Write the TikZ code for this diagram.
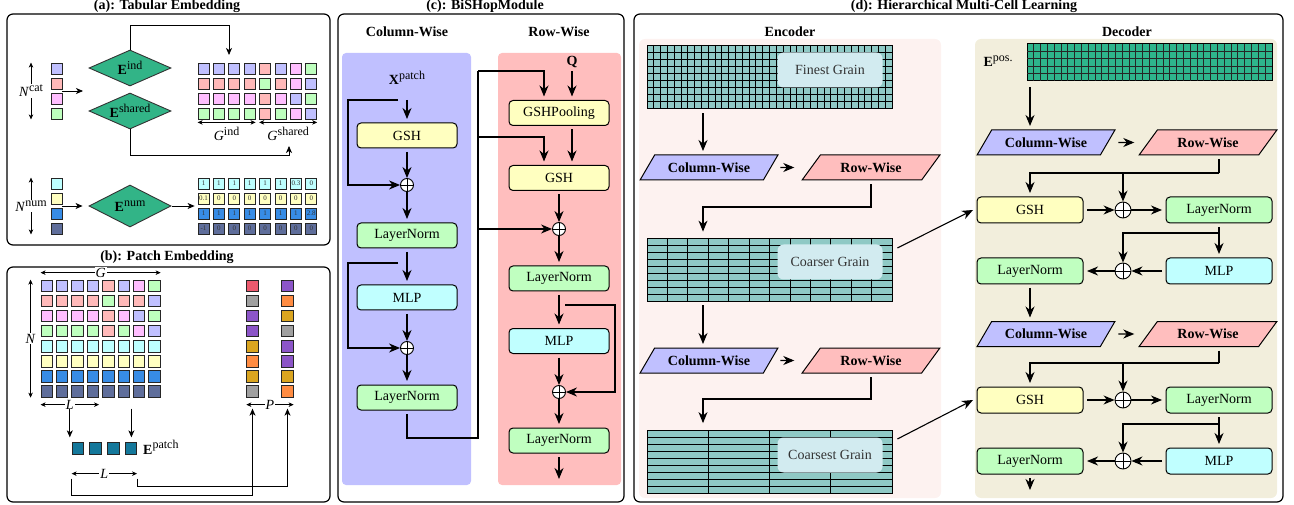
\documentclass[tikz,border=0pt]{standalone}
\usepackage{fontspec}
\setmainfont{Liberation Serif}
\usetikzlibrary{arrows.meta,shapes.geometric,calc}

\definecolor{cB}{RGB}{192,192,255}
\definecolor{cR}{RGB}{255,185,185}
\definecolor{cM}{RGB}{255,190,255}
\definecolor{cG}{RGB}{190,255,190}
\definecolor{cC}{RGB}{190,255,255}
\definecolor{cY}{RGB}{255,255,192}
\definecolor{cD}{RGB}{55,140,230}
\definecolor{cS}{RGB}{95,110,155}
\definecolor{pR}{RGB}{236,90,110}
\definecolor{pA}{RGB}{160,160,160}
\definecolor{pP}{RGB}{140,85,200}
\definecolor{pO}{RGB}{218,165,32}
\definecolor{pN}{RGB}{255,140,66}
\definecolor{diag}{RGB}{50,180,135}
\definecolor{patchc}{RGB}{20,120,155}
\definecolor{colbg}{RGB}{192,192,255}
\definecolor{rowbg}{RGB}{255,190,190}
\definecolor{gshc}{RGB}{255,255,192}
\definecolor{lnc}{RGB}{192,255,192}
\definecolor{mlpc}{RGB}{192,255,255}
\definecolor{encbg}{RGB}{253,242,240}
\definecolor{decbg}{RGB}{242,238,220}
\definecolor{gridc}{RGB}{143,201,197}
\definecolor{grainc}{RGB}{210,235,240}
\definecolor{eposc}{RGB}{46,181,140}

% raised label index, larger than \textsuperscript
\newcommand{\upidx}[1]{\raisebox{0.8ex}{\fontsize{12pt}{12pt}\selectfont #1}}

\tikzset{
  panel/.style={draw, line width=1.2pt, rounded corners=6pt},
  title/.style={font=\fontsize{14pt}{16pt}\selectfont\bfseries, anchor=base, inner sep=0pt},
  cell/.style={draw=black!85, line width=0.8pt, minimum size=11pt, inner sep=0pt},
  pcell/.style={cell, minimum size=11.5pt},
  numcell/.style={cell, font=\fontsize{7pt}{7pt}\selectfont, text=black!80},
  dia/.style={diamond, draw=black!80, line width=0.9pt, fill=diag, aspect=2.2,
              minimum width=82pt, minimum height=36pt, inner sep=0pt},
  sarr/.style={-{Stealth[length=7pt,width=6pt,inset=2pt]}, line width=0.8pt},
  dimarr/.style={{Stealth[length=5pt,width=4.5pt,inset=1.5pt]}-{Stealth[length=5pt,width=4.5pt,inset=1.5pt]}, line width=0.7pt},
  dimlbl/.style={fill=white, inner sep=1pt},
  blk/.style={draw, line width=1pt, rounded corners=4pt, minimum width=100pt,
              minimum height=25pt, inner sep=0pt, outer sep=4pt},
  dblk/.style={blk, minimum width=106pt, minimum height=26pt},
  oplus/.style={circle, draw, line width=0.9pt, fill=white, minimum size=13pt, inner sep=0pt,
                path picture={\draw[line width=0.9pt] (path picture bounding box.north) -- (path picture bounding box.south)
                  (path picture bounding box.west) -- (path picture bounding box.east);}},
  doplus/.style={oplus, minimum size=16pt},
  conn/.style={line width=1.1pt},
  arr/.style={conn, -{Stealth[length=11pt,width=9pt,inset=3.5pt]}},
  para/.style={trapezium, trapezium left angle=42, trapezium right angle=138, trapezium stretches=true,
               draw, line width=1pt, minimum width=138pt, minimum height=25pt, inner sep=0pt, outer sep=4pt,
               font=\fontsize{14pt}{16pt}\selectfont\bfseries},
  cellgrid/.style={draw, line width=0.8pt, fill=gridc, minimum width=245pt, minimum height=63pt, inner sep=0pt},
  gline/.style={line width=0.8pt},
  grain/.style={fill=grainc, rounded corners=6pt, minimum width=105pt, minimum height=35pt,
                inner sep=0pt, text=black!80},
}

\begin{document}
\begin{tikzpicture}[x=1pt, y=-1pt, font=\fontsize{14pt}{16pt}\selectfont]

\useasboundingbox (0,0) rectangle (1294,505);

% ---------------- (a) tabular embedding
\node[title] (ta) at (167,10) {(a): Tabular Embedding};
\draw[panel] (7,14) rectangle (330,245);

\foreach \cl [count=\j] in {B,R,M,G}
  \node[cell, fill=c\cl] (ca-\j) at (56.5,{68.5+15*(\j-1)}) {};
\foreach \cl [count=\j] in {C,Y,D,S}
  \node[cell, fill=c\cl] (na-\j) at (56.5,{183.5+15*(\j-1)}) {};

\foreach \row [count=\j] in {{B,B,B,B,R,B,M,G},{R,R,R,R,G,R,M,B},{M,M,M,M,R,M,B,G},{G,G,G,G,R,G,M,B}}{
  \foreach \cl [count=\i] in \row
    \node[cell, fill=c\cl] (ga-\j-\i) at ({203.5+15.4*(\i-1)},{68.5+15*(\j-1)}) {};
}
\foreach \vals/\col [count=\j] in {{1,1,1,1,1,1,0.3,0}/C,{0.1,0,0,0,0,0,0,0}/Y,{1,1,1,1,1,1,1,2.8}/D,{-1,0,0,0,0,0,0,0}/S}{
  \foreach \val [count=\i] in \vals
    \node[numcell, fill=c\col] (gn-\j-\i) at ({203.5+15.4*(\i-1)},{183.5+15*(\j-1)}) {\val};
}

\node[dia] (eind) at (130,68) {\textbf{E}\upidx{ind}};
\node[dia] (eshared) at (130,111) {\textbf{E}\upidx{shared}};
\node[dia, minimum height=42pt] (enum) at (130,206) {\textbf{E}\upidx{num}};

\draw[dimarr] ([xshift=-25.5pt]ca-1.north) -- node[dimlbl] (ncat) {\textit{N}\upidx{cat}} ([xshift=-25.5pt]ca-4.south);
\draw[dimarr] ([xshift=-25.5pt]na-1.north) -- node[dimlbl] (nnum) {\textit{N}\upidx{num}} ([xshift=-25.5pt]na-4.south);

\coordinate (catin) at (83,91);
\coordinate (gind) at (229,55);
\coordinate (gsh) at (289,146);
\draw[sarr] ($(ca-2.east)!0.5!(ca-3.east)$) -- (catin);
\draw[sarr] (eind.north) -- ++(0,-24) -| (gind);
\draw[sarr] (eshared.south) -- ++(0,26) -| (gsh);
\draw[sarr] ($(na-2.east)!0.5!(na-3.east)$) -- ([xshift=-6pt]enum.west);
\draw[sarr] ([xshift=1pt]enum.east) -- ([xshift=-3pt]$(gn-2-1.south west)!0.5!(gn-3-1.north west)$);

\draw[dimarr] ([yshift=-3pt]ga-4-1.south west) -- node[below=1pt] (lgind) {\textit{G}\upidx{ind}} ([yshift=-3pt]ga-4-4.south east);
\draw[dimarr] ([yshift=-3pt]ga-4-5.south west) -- node[below=1pt] (lgsh) {\textit{G}\upidx{shared}} ([yshift=-3pt]ga-4-8.south east);

% ---------------- (b) patch embedding
\node[title] (tb) at (167,261) {(b): Patch Embedding};
\draw[panel] (7,267) rectangle (330,502);

\foreach \row [count=\j] in {{B,B,B,B,R,B,M,G},{R,R,R,R,G,R,R,B},{M,M,M,M,R,M,B,G},{G,G,G,G,R,G,M,B},
                             {C,C,C,C,C,C,C,C},{Y,Y,Y,Y,Y,Y,Y,Y},{D,D,D,D,D,D,D,D},{S,S,S,S,S,S,S,S}}{
  \foreach \cl [count=\i] in \row
    \node[pcell, fill=c\cl] (gp-\j-\i) at ({46.7+15.4*(\i-1)},{285.8+15.1*(\j-1)}) {};
}
\foreach \cl [count=\j] in {pR,pA,pP,pP,pO,pN,pO,pA}
  \node[pcell, fill=\cl] (pc1-\j) at (252.5,{285.8+15.1*(\j-1)}) {};
\foreach \cl [count=\j] in {pP,pN,pO,pA,pP,pP,pO,pN}
  \node[pcell, fill=\cl] (pc2-\j) at (287.5,{285.8+15.1*(\j-1)}) {};
\foreach \k in {1,...,4}
  \node[pcell, fill=patchc] (ep-\k) at ({77.8+17.7*(\k-1)},448.5) {};
\node[anchor=base west, inner sep=0pt] (eplbl) at (143,454) {\textbf{E}\upidx{patch}};

\draw[dimarr] ([yshift=7pt]gp-1-1.north west) -- node[dimlbl] (lg) {\textit{G}} ([yshift=7pt]gp-1-8.north east);
\draw[dimarr] ([xshift=-10pt]gp-1-1.north west) -- node[dimlbl] (ln) {\textit{N}} ([xshift=-10pt]gp-8-1.south west);
\draw[dimarr] ([yshift=-7pt]gp-8-1.south west) -- node[dimlbl] (ll) {\textit{L}} ([yshift=-7pt]gp-8-4.south east);
\draw[dimarr] ([yshift=-7pt]pc1-8.south west) -- node[dimlbl] (lp) {\textit{P}} ([yshift=-7pt]pc2-8.south east);
\draw[dimarr] ([yshift=-19pt]ep-1.south west) -- node[dimlbl] (ll2) {\textit{L}} ([yshift=-19pt]ep-4.south east);

\coordinate (pl) at ($(gp-8-2.south east)!0.5!(gp-8-3.south west)+(0,11)$);
\coordinate (pr) at ($(gp-8-6.south east)!0.5!(gp-8-7.south west)+(0,11)$);
\draw[sarr, shorten >=5pt] (pl) -- (pl |- ep-1.north);
\draw[sarr, shorten >=5pt] (pr) -- (pr |- ep-1.north);
\draw[sarr, line width=1pt] ([yshift=-24pt]ep-1.south west) -- ++(0,17) -| ([yshift=-11pt]pc1-8.south);
\draw[sarr, line width=1pt] ([yshift=-24pt]ep-4.south east) -- ++(0,8) -| ([yshift=-11pt]pc2-8.south);

% ---------------- (c) BiSHop module
\node[title] (tc) at (485,10) {(c): BiSHopModule};
\draw[panel] (338,14) rectangle (624,502);
\node[title] (hcol) at (407,37) {Column-Wise};
\node[title] (hrow) at (559,37) {Row-Wise};
\fill[colbg, rounded corners=4pt] (342,53) rectangle (471,485);
\fill[rowbg, rounded corners=4pt] (498,53) rectangle (621,485);

\node (xp) at (407,78) {\textbf{X}\upidx{patch}};
\node[blk, fill=gshc] (cgsh) at (407,135.5) {GSH};
\node[oplus] (cop1) at (407,185) {};
\node[blk, fill=lnc] (cln1) at (407,235.5) {LayerNorm};
\node[blk, fill=mlpc] (cmlp) at (407,297.5) {MLP};
\node[oplus] (cop2) at (407,348) {};
\node[blk, fill=lnc] (cln2) at (407,397.5) {LayerNorm};

\node (q) at (572,62) {\textbf{Q}};
\node[blk, fill=gshc] (rpool) at (559,113) {GSHPooling};
\node[blk, fill=gshc] (rgsh) at (559,178) {GSH};
\node[oplus] (rop1) at (559,229) {};
\node[blk, fill=lnc] (rln1) at (559,278.5) {LayerNorm};
\node[blk, fill=mlpc] (rmlp) at (559,341) {MLP};
\node[oplus] (rop2) at (559,392) {};
\node[blk, fill=lnc] (rln2) at (559,440.5) {LayerNorm};

\coordinate (cs1) at (398,100);
\coordinate (cs2) at (398,263);
\coordinate (cbus) at (478,438);
\coordinate (rbus) at (478,71);
\coordinate (rb2) at (478,137);
\coordinate (rs) at (565,305);
\coordinate (rout) at (559,479);

\draw[arr] (cs1 -| cgsh) -- (cgsh);
\draw[arr] (cs1) -- ++(-50,0) |- (cop1);
\draw[arr] (cgsh) -- (cop1);
\draw[arr] (cop1) -- (cln1);
\draw[arr] (cln1) -- (cmlp);
\draw[arr] (cs2) -- ++(-50,0) |- (cop2);
\draw[arr] (cmlp) -- (cop2);
\draw[arr] (cop2) -- (cln2);
\draw[conn] (cln2.south) |- (cbus) -- (rbus);
\draw[arr] (rbus) -| ([xshift=-15pt]rpool.north);
\draw[arr] (rb2) -| ([xshift=-15pt]rgsh.north);
\draw[arr] (rbus |- rop1) -- (rop1);

\draw[arr] (q) -- ([xshift=13pt]rpool.north);
\draw[arr] ([xshift=13pt]rpool.south) -- ([xshift=13pt]rgsh.north);
\draw[arr] (rgsh) -- (rop1);
\draw[arr] (rop1) -- (rln1);
\draw[arr] (rln1) -- (rmlp);
\draw[arr] (rs) -- ++(50,0) |- (rop2);
\draw[arr] (rmlp) -- (rop2);
\draw[arr] (rop2) -- (rln2);
\draw[arr] (rln2) -- (rout);

% ---------------- (d) hierarchical multi-cell learning
\node[title] (td) at (964,10) {(d): Hierarchical Multi-Cell Learning};
\draw[panel] (634,14) rectangle (1283,502);
\node[title] (henc) at (790,37) {Encoder};
\node[title] (hdec) at (1127,37) {Decoder};
\fill[encbg, rounded corners=6pt] (639,39) rectangle (941,498);
\fill[decbg, rounded corners=6pt] (975,39) rectangle (1277,498);

% encoder grids
\node[cellgrid] (fine) at (769.5,76.5) {};
\foreach \k in {1,...,35}
  \draw[gline] ($(fine.center)+({-122.5+\k*245/36},-31.5)$) -- ++(0,63);
\foreach \k in {1,...,8}
  \draw[gline] ($(fine.center)+(-122.5,{-31.5+\k*7})$) -- ++(245,0);
\node[grain] (finel) at (830,70) {Finest Grain};

\node[cellgrid] (coarse) at (769.5,269.5) {};
\foreach \k in {1,...,11}
  \draw[gline] ($(coarse.center)+({-122.5+\k*245/12},-31.5)$) -- ++(0,63);
\foreach \k in {1,...,8}
  \draw[gline] ($(coarse.center)+(-122.5,{-31.5+\k*7})$) -- ++(245,0);
\node[grain] (coarsel) at (830,262) {Coarser Grain};

\node[cellgrid] (coarsest) at (769.5,462) {};
\foreach \k in {1,...,3}
  \draw[gline] ($(coarsest.center)+({-122.5+\k*245/4},-31.5)$) -- ++(0,63);
\foreach \k in {1,...,8}
  \draw[gline] ($(coarsest.center)+(-122.5,{-31.5+\k*7})$) -- ++(245,0);
\node[grain] (coarsestl) at (830,455) {Coarsest Grain};

\node[para, fill=colbg] (ecw1) at (709,167.5) {Column-Wise};
\node[para, fill=rowbg] (erw1) at (871,167.5) {Row-Wise};
\node[para, fill=colbg] (ecw2) at (709,360.5) {Column-Wise};
\node[para, fill=rowbg] (erw2) at (871,360.5) {Row-Wise};

\coordinate (ec1) at ([xshift=-66.5pt,yshift=-5pt]fine.south);
\coordinate (ec2) at ([xshift=-66.5pt,yshift=-4pt]coarse.south);
\draw[arr] (ec1) -- (ec1 |- ecw1.north);
\draw[arr] ([xshift=5pt]ecw1.east) -- ([xshift=-12pt]erw1.west);
\draw[arr] (erw1.south) -- ++(0,23) -| ([xshift=-66.5pt,yshift=6pt]coarse.north);
\draw[arr] (ec2) -- (ec2 |- ecw2.north);
\draw[arr] ([xshift=5pt]ecw2.east) -- ([xshift=-12pt]erw2.west);
\draw[arr] (erw2.south) -- ++(0,22) -| ([xshift=-66.5pt,yshift=7pt]coarsest.north);

% decoder
\node[anchor=base] (eposl) at (998,67) {\textbf{E}\upidx{pos.}};
\node[cellgrid, fill=eposc, minimum height=37pt, line width=1pt] (epos) at (1149.5,62.5) {};
\foreach \k in {1,...,35}
  \draw[line width=1pt, black!85] ($(epos.center)+({-122.5+\k*245/36},-18.5)$) -- ++(0,37);
\foreach \k in {1,...,4}
  \draw[line width=1pt, black!85] ($(epos.center)+(-122.5,{-18.5+\k*7.4})$) -- ++(245,0);

\node[para, fill=colbg] (dcw1) at (1046,142.5) {Column-Wise};
\node[para, fill=rowbg] (drw1) at (1208,142.5) {Row-Wise};
\node[dblk, fill=gshc] (dgsh1) at (1030,210) {GSH};
\node[doplus] (dop1) at (1123,210) {};
\node[dblk, fill=lnc] (dln1) at (1219,210) {LayerNorm};
\node[dblk, fill=lnc] (dln2) at (1030,271) {LayerNorm};
\node[doplus] (dop2) at (1123,271) {};
\node[dblk, fill=mlpc] (dmlp1) at (1219,271) {MLP};
\node[para, fill=colbg] (dcw2) at (1046,334) {Column-Wise};
\node[para, fill=rowbg] (drw2) at (1208,334) {Row-Wise};
\node[dblk, fill=gshc] (dgsh2) at (1030,400) {GSH};
\node[doplus] (dop3) at (1123,400) {};
\node[dblk, fill=lnc] (dln3) at (1219,400) {LayerNorm};
\node[dblk, fill=lnc] (dln4) at (1030,461) {LayerNorm};
\node[doplus] (dop4) at (1123,461) {};
\node[dblk, fill=mlpc] (dmlp2) at (1219,461) {MLP};

\coordinate (dj1) at (1219,173);
\coordinate (dj2) at (1219,233);
\coordinate (dj3) at (1219,363);
\coordinate (dj4) at (1219,424);
\coordinate (dout) at (1030,490);
\coordinate (ep0) at ([yshift=-6pt]epos.south -| dgsh1);

\draw[arr] (ep0) -- (ep0 |- dcw1.north);
\draw[arr] ([xshift=6pt]dcw1.east) -- ([xshift=-9pt]drw1.west);
\draw[conn] (drw1.south -| dj1) -- (dj1);
\draw[arr] (dj1) -| (dgsh1.north);
\draw[arr] (dj1 -| dop1) -- (dop1);
\draw[arr] (dgsh1) -- (dop1);
\draw[arr] (dop1) -- (dln1);
\draw[arr] (dln1) -- (dmlp1);
\draw[arr] (dj2) -| (dop2);
\draw[arr] (dmlp1) -- (dop2);
\draw[arr] (dop2) -- (dln2);
\draw[arr] (dln2.south) -- (dln2.south |- dcw2.north);
\draw[arr] ([xshift=6pt]dcw2.east) -- ([xshift=-9pt]drw2.west);
\draw[conn] (drw2.south -| dj3) -- (dj3);
\draw[arr] (dj3) -| (dgsh2.north);
\draw[arr] (dj3 -| dop3) -- (dop3);
\draw[arr] (dgsh2) -- (dop3);
\draw[arr] (dop3) -- (dln3);
\draw[arr] (dln3) -- (dmlp2);
\draw[arr] (dj4) -| (dop4);
\draw[arr] (dmlp2) -- (dop4);
\draw[arr] (dop4) -- (dln4);
\draw[arr] (dln4) -- (dout);

% encoder to decoder
\draw[arr] ([xshift=5pt,yshift=21.5pt]coarse.east) -- (dgsh1.west);
\draw[arr] ([xshift=5pt,yshift=23pt]coarsest.east) -- (dgsh2.west);

\end{tikzpicture}
\end{document}
